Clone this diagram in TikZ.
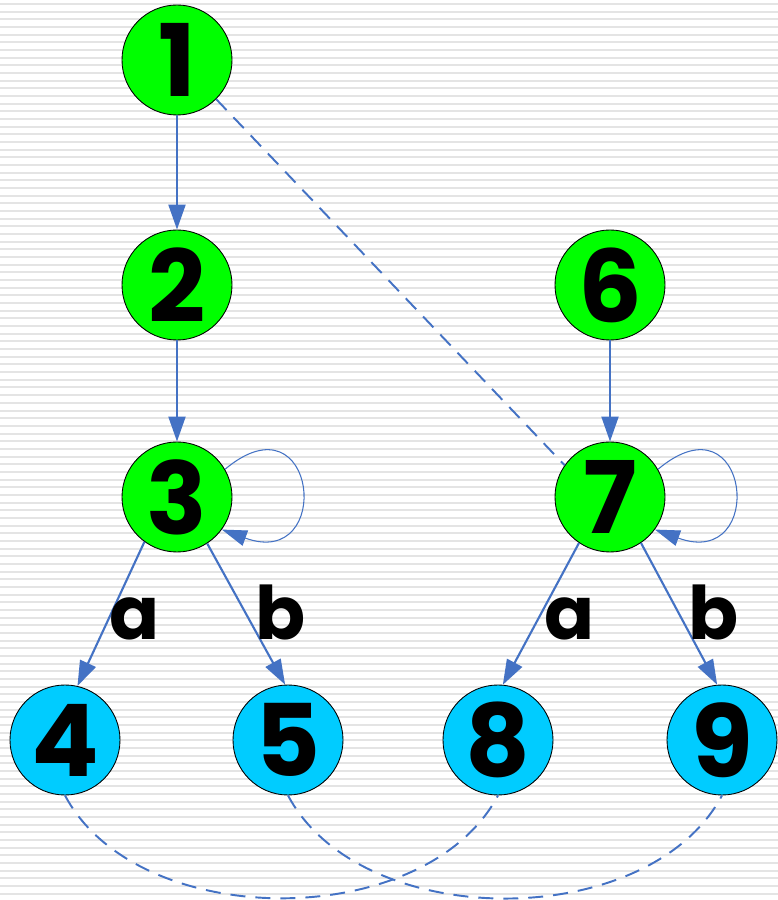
\documentclass[tikz,border=0pt]{standalone}
\usepackage{fontspec}
\usetikzlibrary{arrows.meta}
\newfontfamily\statefont{Poppins}
\definecolor{stategreen}{HTML}{00FF00}
\definecolor{statecyan}{HTML}{00CCFF}
\definecolor{edgeblue}{HTML}{4472C4}
\definecolor{stripegray}{HTML}{E4E4E4}

\begin{document}
\begin{tikzpicture}[x=0.2mm, y=0.2mm,
    state/.style={draw, circle, line width=0.5pt, minimum size=22mm, inner sep=0pt,
                  font=\statefont\bfseries\fontsize{57}{60}\selectfont},
    initstate/.style={state, fill=stategreen},
    endstate/.style={state, fill=statecyan},
    edge/.style={draw=edgeblue, line width=1.2pt, -{Triangle[length=5mm, width=3.4mm]}},
    selfloop/.style={draw=edgeblue, line width=0.6pt, -{Triangle[length=5mm, width=3.2mm]}},
    link/.style={draw=edgeblue, line width=1.1pt, dash pattern=on 3mm off 2mm},
    lbl/.style={anchor=base, font=\statefont\bfseries\fontsize{42}{46}\selectfont}
]

% ================================================================
%  Striped background
% ================================================================
\fill[white] (0,0) rectangle (778,900);
\foreach \k in {0,...,116} {
    \fill[stripegray] (0, 895-7.67*\k) rectangle (778, 897-7.67*\k);
}
\useasboundingbox (0,0) rectangle (778,900);

% ================================================================
%  States
% ================================================================
\node[initstate] (n1) at (177,840) {1};
\node[initstate] (n2) at (177,615) {2};
\node[initstate] (n3) at (177,403) {3};
\node[initstate] (n6) at (610,615) {6};
\node[initstate] (n7) at (610,403) {7};

\node[endstate] (n4) at (65,160)  {4};
\node[endstate] (n5) at (288,160) {5};
\node[endstate] (n8) at (498,160) {8};
\node[endstate] (n9) at (722,160) {9};

% chains
\draw[edge] (n1) -- (n2);
\draw[edge] (n2) -- (n3);
\draw[edge] (n6) -- (n7);

% branches on a / b
\draw[edge] (n3.-126) -- (n4.77);
\draw[edge] (n3.-57)  -- (n5.93);
\draw[edge] (n7.-124) -- (n8.85);
\draw[edge] (n7.-56)  -- (n9.95);

\node[lbl] (a3) at (135,260) {a};
\node[lbl] (b3) at (281,260) {b};
\node[lbl] (a7) at (570,260) {a};
\node[lbl] (b7) at (714,260) {b};

% self loops
\draw[selfloop] (n3.30) to[out=40, in=-20, looseness=5.1] (n3.-36);
\draw[selfloop] (n7.30) to[out=40, in=-20, looseness=5.1] (n7.-36);

% dashed links
\draw[link] (n1.-45) -- (n7.145);
\draw[link] (n4.south) to[out=-62, in=-118, looseness=0.92] (n8.south);
\draw[link] (n5.south) to[out=-62, in=-118, looseness=0.92] (n9.south);
\end{tikzpicture}
\end{document}
